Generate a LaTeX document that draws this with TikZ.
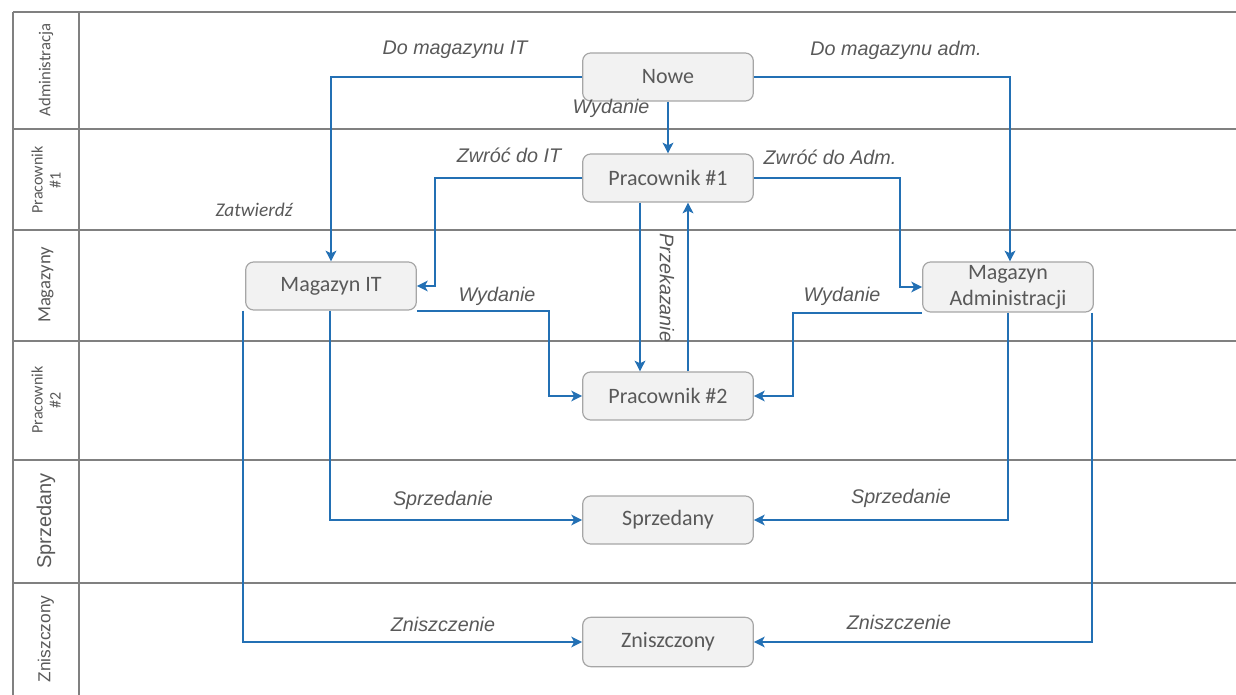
\documentclass[tikz,border=0pt]{standalone}
\usepackage{fontspec}
\setmainfont{Carlito}
\newfontfamily\arial{Liberation Sans}
\usetikzlibrary{arrows.meta}
\definecolor{connblue}{HTML}{2370B4}
\definecolor{txtgray}{HTML}{595959}
\definecolor{boxfill}{HTML}{F2F2F2}
\definecolor{boxline}{HTML}{A6A6A6}
\definecolor{laneline}{HTML}{808080}
\tikzset{
  state/.style={draw=boxline, fill=boxfill, line width=0.9pt, rounded corners=6pt,
    minimum width=128pt, minimum height=36pt, inner sep=1pt, align=center,
    text=txtgray, font=\fontsize{16.5}{19.5}\selectfont},
  conn/.style={draw=connblue, line width=1.6pt, -{Stealth[length=8pt,width=8pt,inset=2pt]}},
  lbl/.style={text=txtgray, font=\arial\itshape\fontsize{14.8}{17}\selectfont, inner sep=0pt},
  lane/.style={draw=laneline, line width=1.1pt},
  lanelbl/.style={text=txtgray, rotate=90, align=center, inner sep=0pt},
}
\begin{document}
\begin{tikzpicture}[x=0.75pt,y=-0.75pt]
\useasboundingbox (0,0) rectangle (1236,695);
% lanes
\draw[lane] (13,12) -- (1236,12);
\draw[lane] (13,129) -- (1236,129);
\draw[lane] (13,230) -- (1236,230);
\draw[lane] (13,341) -- (1236,341);
\draw[lane] (13,460) -- (1236,460);
\draw[lane] (13,583) -- (1236,583);
\draw[lane] (13,12) -- (13,695);
\draw[lane] (79,12) -- (79,695);
\node[lanelbl, font=\fontsize{12.5}{14}\selectfont] (l1) at (46,70) {Administracja};
\node[lanelbl, font=\fontsize{12}{13.5}\selectfont] (l2) at (46,180) {Pracownik\\\#1};
\node[lanelbl, font=\fontsize{14}{16}\selectfont] (l3) at (46,285) {Magazyny};
\node[lanelbl, font=\fontsize{12}{13.5}\selectfont] (l4) at (46,400) {Pracownik\\\#2};
\node[lanelbl, font=\arial\fontsize{15}{17}\selectfont] (l5) at (46,521) {Sprzedany};
\node[lanelbl, font=\arial\fontsize{13}{15}\selectfont] (l6) at (46,639) {Zniszczony};
% states
\node[state] (nowe) at (668,77) {Nowe};
\node[state] (p1) at (668,178) {Pracownik \#1};
\node[state] (magit) at (331,286) {Magazyn IT};
\node[state, minimum height=37.5pt] (magadm) at (1008,287) {Magazyn\\Administracji};
\node[state] (p2) at (668,396) {Pracownik \#2};
\node[state] (sprz) at (668,520) {Sprzedany};
\node[state, minimum height=37pt] (zn) at (668,642) {Zniszczony};
% helper coordinates
\coordinate (zIT) at (435,178);
\coordinate (zAdm) at (900,178);
\coordinate (wIT) at (549,396);
\coordinate (wAdm) at (793,396);
% connectors
\draw[conn] (nowe.west) -| (magit.north);
\draw[conn] (nowe.east) -| ([xshift=1.5pt]magadm.north);
\draw[conn] (nowe.south) -- (p1.north);
\draw[conn] (p1.west) -- (zIT) |- (magit.east);
\draw[conn] (p1.east) -- (zAdm) |- (magadm.west);
\draw[conn] ([xshift=-21pt]p1.south) -- ([xshift=-21pt]p2.north);
\draw[conn] ([xshift=15pt]p2.north) -- ([xshift=15pt]p1.south);
\draw[conn] (magit.south east) -| (wIT) -- (p2.west);
\draw[conn] (magadm.south west) -| (wAdm) -- (p2.east);
\draw[conn] ([xshift=-0.75pt]magit.south) |- (sprz.west);
\draw[conn] (magadm.south) |- (sprz.east);
\draw[conn] ([xshift=-1.5pt]magit.south west) |- (zn.west);
\draw[conn] ([xshift=-1.5pt]magadm.south east) |- (zn.east);
% labels
\node[lbl] (t1) at (455,50) {Do magazynu IT};
\node[lbl] (t2) at (896,50) {Do magazynu adm.};
\node[lbl] (t3) at (611,108) {Wydanie};
\node[lbl] (t4) at (509,155) {Zwróć do IT};
\node[lbl] (t5) at (830,157) {Zwróć do Adm.};
\node[text=txtgray, font=\itshape\fontsize{14.5}{17}\selectfont, inner sep=0pt] (t6) at (254,210) {Zatwierdź};
\node[lbl, rotate=-90] (t7) at (667,288) {Przekazanie};
\node[lbl] (t8) at (497,296) {Wydanie};
\node[lbl] (t9) at (842,296) {Wydanie};
\node[lbl] (t10) at (443,500) {Sprzedanie};
\node[lbl] (t11) at (901,498) {Sprzedanie};
\node[lbl] (t12) at (443,624) {Zniszczenie};
\node[lbl] (t13) at (899,622) {Zniszczenie};
\end{tikzpicture}
\end{document}
